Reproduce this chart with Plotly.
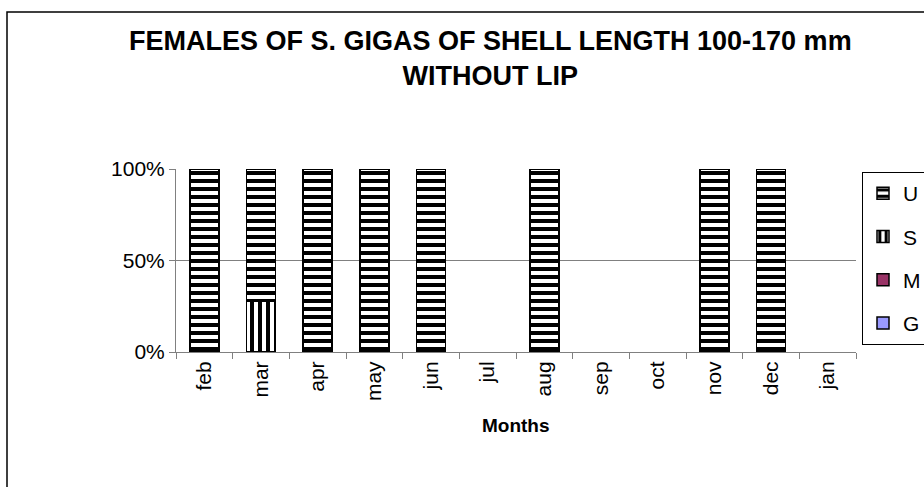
import plotly.graph_objects as go

months = ['feb', 'mar', 'apr', 'may', 'jun', 'jul', 'aug', 'sep', 'oct', 'nov', 'dec', 'jan']
U = [100, 72.5, 100, 100, 100, 0, 100, 0, 0, 100, 100, 0]
S = [0, 27.5, 0, 0, 0, 0, 0, 0, 0, 0, 0, 0]
M = [0, 0, 0, 0, 0, 0, 0, 0, 0, 0, 0, 0]
G = [0, 0, 0, 0, 0, 0, 0, 0, 0, 0, 0, 0]
ytick_vals = [0, 50, 100]
ytick_text = ['0%', '50%', '100%']
title_text = '<b>FEMALES OF S. GIGAS OF SHELL LENGTH 100-170 mm<br>WITHOUT LIP</b>'
xtitle_text = '<b>Months</b>'

def nz(arr):
    return [v if v else None for v in arr]

W, H = 924, 487
L, R, T, B = 176, 856, 169, 352
pw, ph = R - L, B - T

def px(x):
    return (x - L) / pw

def py(y):
    return (B - y) / ph

fig = go.Figure()
line = dict(color='black', width=1.5)
fig.add_trace(go.Bar(name='G', x=months, y=nz(G), legendgroup='G', legendrank=4,
                     marker=dict(color='#9999FF', line=line)))
fig.add_trace(go.Bar(name='M', x=months, y=nz(M), legendgroup='M', legendrank=3,
                     marker=dict(color='#993366', line=line)))
fig.add_trace(go.Bar(name='S', x=months, y=nz(S), legendgroup='S', legendrank=2,
                     marker=dict(color='white', line=line,
                                 pattern=dict(shape='|', fgcolor='#000000', bgcolor='#ffffff',
                                              fgopacity=1, fillmode='replace',
                                              size=8, solidity=0.5))))
fig.add_trace(go.Bar(name='U', x=months, y=nz(U), legendgroup='U', legendrank=1,
                     marker=dict(color='white', line=line,
                                 pattern=dict(shape='-', fgcolor='#000000', bgcolor='#ffffff',
                                              fgopacity=1, fillmode='replace',
                                              size=8, solidity=0.5))))

fig.add_shape(type='rect', xref='paper', yref='paper',
              x0=px(7), x1=px(980), y0=py(540), y1=py(12),
              line=dict(color='black', width=1.5), fillcolor='rgba(0,0,0,0)', layer='below')

fig.add_annotation(text=title_text, xref='paper', yref='paper', x=px(490), y=py(58),
                   xanchor='center', yanchor='middle', showarrow=False,
                   font=dict(family='Liberation Sans, Arial, sans-serif', size=27, color='black'))
fig.add_annotation(text=xtitle_text, xref='paper', yref='paper', x=px(516), y=py(425),
                   xanchor='center', yanchor='middle', showarrow=False,
                   font=dict(family='Liberation Sans, Arial, sans-serif', size=19, color='black'))

fig.update_layout(
    width=W, height=H,
    margin=dict(l=L, r=W - R, t=T, b=H - B, pad=0, autoexpand=False),
    barmode='stack', bargap=0.49,
    paper_bgcolor='white', plot_bgcolor='white',
    font=dict(family='Liberation Sans, Arial, sans-serif', size=21, color='black'),
    showlegend=True,
    legend=dict(traceorder='grouped', x=px(862), xanchor='left',
                y=py(172), yanchor='top',
                bordercolor='black', borderwidth=1, bgcolor='white',
                font=dict(size=21), tracegroupgap=13, itemwidth=30),
    xaxis=dict(type='category', showline=True, linecolor='#808080', linewidth=1,
               ticks='outside', tickson='boundaries', ticklen=6, tickcolor='#808080',
               tickangle=-90, showgrid=False, automargin=False),
    yaxis=dict(range=[0, 100], tickvals=ytick_vals, ticktext=ytick_text,
               showline=True, linecolor='#808080', linewidth=1,
               ticks='outside', ticklen=6, tickcolor='#808080', automargin=False,
               showgrid=True, gridcolor='#808080', gridwidth=1, zeroline=False),
)

fig.write_html('out.html', config={'displayModeBar': False},
               post_script="document.body.style.margin='0';")
